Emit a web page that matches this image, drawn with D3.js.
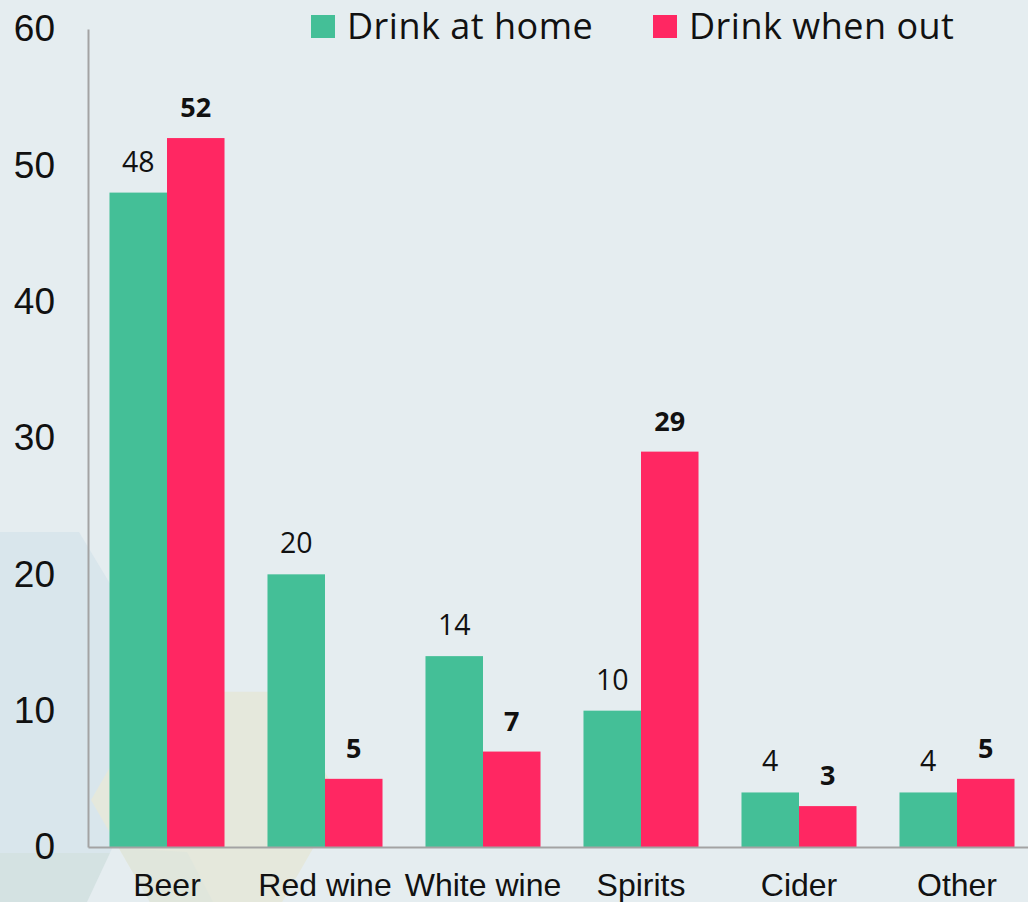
<!DOCTYPE html>
<html>
<head>
<meta charset="utf-8">
<script src="https://cdn.jsdelivr.net/npm/d3@7"></script>
<style>
  html, body { margin: 0; padding: 0; background: #e5edf0; }
  svg { display: block; }
</style>
</head>
<body>
<svg id="chart" width="1028" height="902"></svg>
<script>
// Drinking habits by drink type (%)
const categories = ["Beer", "Red wine", "White wine", "Spirits", "Cider", "Other"];
const seriesNames = ["Drink at home", "Drink when out"];
const atHome = [48, 20, 14, 10, 4, 4];
const whenOut = [52, 5, 7, 29, 3, 5];
const yTicks = [0, 10, 20, 30, 40, 50, 60];
const colors = ["#44bf97", "#ff2762"];

const W = 1028, H = 902;
const margin = { left: 88, right: -8, top: 29, bottom: 55 };
const svg = d3.select("#chart");

// Decorative low-poly background shapes
const deco = svg.append("g");
deco.append("polygon")
  .attr("points", [[0,532],[79,532],[180,700],[110,853],[0,853]].map(p => p.join(",")).join(" "))
  .attr("fill", "#d9e6ec");
deco.append("polygon")
  .attr("points", [[0,853],[110,853],[87,902],[0,902]].map(p => p.join(",")).join(" "))
  .attr("fill", "#d4e2e2");
const hexR = 125, hexC = [216, 800];
const hexPts = d3.range(6).map(i => {
  const a = Math.PI / 3 * i;
  return [hexC[0] + hexR * Math.cos(a), hexC[1] + hexR * Math.sin(a)];
});
deco.append("polygon")
  .attr("points", hexPts.map(p => p.join(",")).join(" "))
  .attr("fill", "#e5e8dc");
deco.append("polygon")
  .attr("points", [[119,848],[187,852],[213,902],[150,902]].map(p => p.join(",")).join(" "))
  .attr("fill", "#e0e6dc");

const x0 = d3.scaleBand()
  .domain(categories)
  .range([margin.left, W - margin.right])
  .paddingInner(0.272)
  .paddingOuter(0.136);

const x1 = d3.scaleBand()
  .domain(seriesNames)
  .range([0, x0.bandwidth()]);

const y = d3.scaleLinear()
  .domain([0, 60])
  .range([H - margin.bottom, margin.top]);

const rows = categories.map((c, i) => ({
  category: c,
  values: [
    { series: seriesNames[0], value: atHome[i] },
    { series: seriesNames[1], value: whenOut[i] }
  ]
}));

// Bars
const groups = svg.append("g")
  .selectAll("g")
  .data(rows)
  .join("g")
  .attr("transform", d => `translate(${x0(d.category)},0)`);

groups.selectAll("rect")
  .data(d => d.values)
  .join("rect")
  .attr("x", d => x1(d.series))
  .attr("width", x1.bandwidth())
  .attr("y", d => y(d.value))
  .attr("height", d => y(0) - y(d.value))
  .attr("fill", (d, i) => colors[i]);

// Value labels
groups.selectAll("text")
  .data(d => d.values)
  .join("text")
  .attr("x", d => x1(d.series) + x1.bandwidth() / 2)
  .attr("y", d => y(d.value) - 21)
  .attr("text-anchor", "middle")
  .attr("font-family", "'Open Sans', sans-serif")
  .attr("font-size", (d, i) => i === 0 ? 28.5 : 27)
  .attr("font-weight", (d, i) => i === 0 ? 400 : 700)
  .attr("fill", "#111")
  .text(d => d.value);

// Y axis
const yAxis = svg.append("g")
  .attr("transform", `translate(${margin.left},0)`)
  .call(d3.axisLeft(y).tickValues(yTicks).tickSize(0).tickPadding(33));
yAxis.select(".domain").attr("stroke", "#a3a3a3").attr("stroke-width", 2);
yAxis.selectAll("text")
  .attr("font-family", "'Liberation Sans', Arial, sans-serif")
  .attr("font-size", 37)
  .attr("fill", "#111");

// X axis
const xAxis = svg.append("g")
  .attr("transform", `translate(0,${y(0)})`)
  .call(d3.axisBottom(x0).tickSize(0).tickPadding(26).tickSizeOuter(0));
xAxis.select(".domain").attr("stroke", "#a3a3a3").attr("stroke-width", 2);
xAxis.selectAll("text")
  .attr("font-family", "'Liberation Sans', Arial, sans-serif")
  .attr("font-size", 32)
  .attr("fill", "#111");

// Legend
const legendX = [311, 653];
const legend = svg.append("g")
  .selectAll("g")
  .data(seriesNames)
  .join("g")
  .attr("transform", (d, i) => `translate(${legendX[i]},15)`);
legend.append("rect")
  .attr("width", 24).attr("height", 23)
  .attr("fill", (d, i) => colors[i]);
legend.append("text")
  .attr("x", 36)
  .attr("y", 23.5)
  .attr("font-family", "'Open Sans', sans-serif")
  .attr("font-size", 36)
  .attr("letter-spacing", 0.5)
  .attr("fill", "#111")
  .text(d => d);
</script>
</body>
</html>
